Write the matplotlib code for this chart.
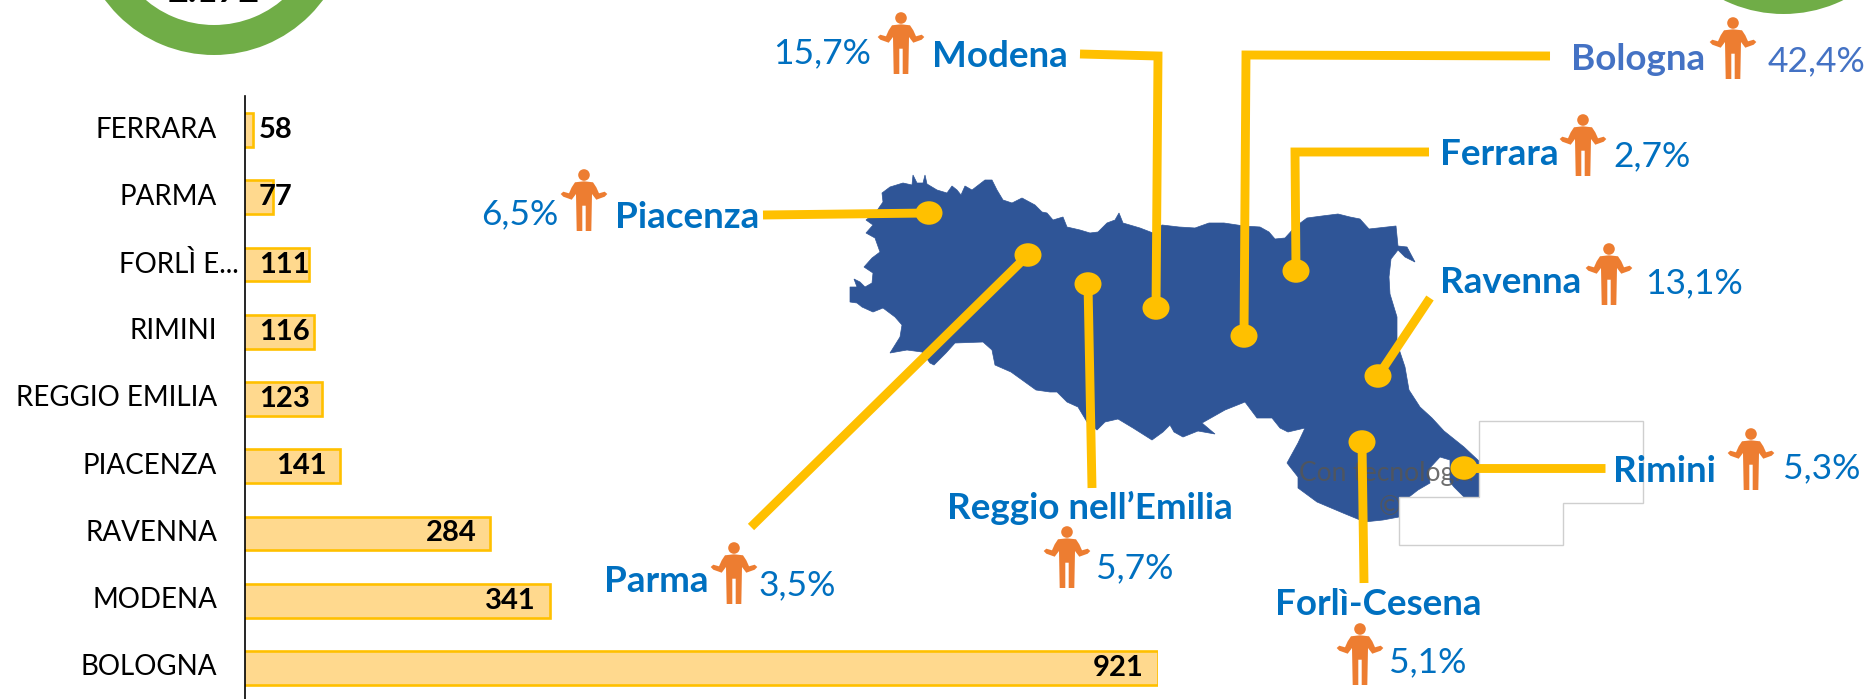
#!/usr/bin/env python3
# Emilia-Romagna: bar chart by province plus map with callouts
import matplotlib
matplotlib.use('Agg')
import matplotlib.pyplot as plt
from matplotlib.patches import Circle, Ellipse, Polygon, Wedge
from matplotlib.transforms import ScaledTranslation

W, H = 1870, 699
plt.rcParams['font.family'] = ['Lato', 'DejaVu Sans']

CATEGORIES = ['FERRARA', 'PARMA', 'FORLÌ E...', 'RIMINI', 'REGGIO EMILIA',
              'PIACENZA', 'RAVENNA', 'MODENA', 'BOLOGNA']
VALUES = [58, 77, 111, 116, 123, 141, 284, 341, 921]
TOTAL_LABEL = '2.172'

PROVINCES = ['Piacenza', 'Parma', 'Reggio nell’Emilia', 'Modena', 'Bologna',
             'Ferrara', 'Ravenna', 'Rimini', 'Forlì-Cesena']
SHARES = ['6,5%', '3,5%', '5,7%', '15,7%', '42,4%', '2,7%', '13,1%', '5,3%', '5,1%']

# layout in reference pixels
NAME_POS = [(615, 228), (604, 592), (947, 519), (932, 67), (1571, 70),
            (1440, 165), (1440, 293), (1613, 482), (1275, 615)]
SHARE_POS = [(481, 224), (759, 595), (1096, 578), (773, 63), (1768, 71),
             (1613, 166), (1645, 293), (1783, 478), (1389, 672)]
ICON_POS = [(584, 169), (734, 542), (1067, 526), (901, 12), (1733, 17),
            (1583, 114), (1609, 243), (1751, 428), (1360, 623)]
LEADERS = [[(763, 215), (929, 213)],
           [(751, 527), (1028, 255)],
           [(1092, 488), (1088, 284)],
           [(1080, 54), (1158, 56), (1156, 308)],
           [(1550, 56), (1246, 55), (1244, 336)],
           [(1429, 152), (1295, 152), (1296, 271)],
           [(1430, 298), (1378, 376)],
           [(1605, 468), (1464, 468)],
           [(1364, 583), (1362, 442)]]
NAME_COLORS = ['#0070C0'] * 4 + ['#4472C4'] + ['#0070C0'] * 4

# region outline, clockwise from the west end
MAP_OUTLINE = [
    (850, 287), (857, 287), (854, 279), (860, 282), (865, 287), (872, 283), (873, 273),
    (864, 267), (872, 258), (880, 252), (875, 238), (866, 233), (873, 225), (866, 220),
    (876, 212), (883, 202), (882, 193), (890, 187), (903, 183), (912, 185), (913, 175),
    (917, 183), (923, 183), (925, 175), (927, 184), (937, 190), (947, 193), (952, 186),
    (957, 190), (961, 195), (965, 186), (972, 190), (985, 180), (992, 180), (997, 190),
    (1003, 200), (1012, 203), (1022, 198), (1035, 205), (1042, 212), (1047, 213),
    (1053, 220), (1063, 217), (1067, 227), (1080, 230), (1090, 233), (1098, 232),
    (1107, 223), (1115, 220), (1119, 213), (1123, 223), (1140, 228), (1153, 233),
    (1162, 225), (1179, 227), (1195, 228), (1209, 223), (1224, 223), (1244, 226),
    (1260, 227), (1269, 232), (1275, 239), (1285, 238), (1295, 227), (1307, 218),
    (1322, 216), (1338, 214), (1350, 217), (1360, 219), (1369, 229), (1387, 227),
    (1396, 226), (1398, 246), (1407, 247), (1415, 262), (1405, 257), (1398, 250),
    (1391, 259), (1389, 277), (1390, 294), (1397, 317), (1397, 343), (1405, 367),
    (1409, 390), (1420, 407), (1432, 418), (1444, 431), (1464, 447), (1480, 462),
    (1480, 497), (1464, 497), (1454, 487), (1450, 482), (1450, 460), (1440, 457),
    (1428, 470), (1430, 483), (1418, 490), (1409, 497), (1399, 498), (1399, 517),
    (1383, 520), (1364, 522), (1360, 520), (1343, 513), (1317, 502), (1298, 488),
    (1298, 477), (1287, 463), (1298, 443), (1305, 428), (1288, 432), (1280, 428),
    (1272, 418), (1257, 418), (1245, 402), (1225, 410), (1202, 423), (1215, 434),
    (1198, 431), (1183, 437), (1174, 432), (1170, 425), (1163, 432), (1152, 440),
    (1133, 428), (1118, 419), (1105, 422), (1097, 430), (1087, 422), (1078, 407),
    (1067, 402), (1057, 392), (1050, 392), (1036, 390), (1011, 372), (995, 365),
    (992, 350), (983, 342), (955, 343), (946, 353), (934, 365), (930, 363), (922, 352),
    (907, 350), (890, 353), (900, 337), (902, 325), (895, 317), (883, 308), (873, 312),
    (862, 307), (857, 303), (850, 302)]
WHITE_BOX = [(1479, 421), (1643, 421), (1643, 503), (1563, 503), (1563, 545),
             (1399, 545), (1399, 497), (1479, 497)]
PERSON_HALF = [(0, 12.3), (9, 13.3), (12.3, 18.3), (15, 24.3), (20.7, 22.7), (23.3, 25),
               (20.7, 27.7), (12.3, 30.7), (8, 25), (7.3, 62), (1.7, 62), (1.7, 36.7),
               (0, 36.7)]

GOLD = '#FFC000'
GREEN = '#70AD47'
ORANGE = '#ED7D31'
MAP_BLUE = '#2F5597'


def person(ax, cx, top):
    right = [(cx + x, top + y) for x, y in PERSON_HALF]
    left = [(cx - x, top + y) for x, y in PERSON_HALF[::-1]]
    ax.add_patch(Polygon(right + left, closed=True, fc=ORANGE, ec='none', zorder=6))
    ax.add_patch(Circle((cx, top + 6), 5.8, fc=ORANGE, ec='none', zorder=6))


fig = plt.figure(figsize=(W / 100, H / 100), dpi=100, facecolor='white')

# full-figure layer in pixel coordinates for map and callouts
ax = fig.add_axes([0, 0, 1, 1])
ax.set_xlim(0, W)
ax.set_ylim(H, 0)
ax.axis('off')

# donuts running off the top edge
ax.add_patch(Wedge((214, -80.5), 135.5, 0, 360, width=30, fc=GREEN, ec='none'))
ax.add_patch(Wedge((1783.5, -121.5), 135.5, 0, 360, width=30, fc=GREEN, ec='none'))
ax.text(214, 2, TOTAL_LABEL, ha='center', va='baseline', fontsize=26,
        fontweight='bold', color='black')

ax.add_patch(Polygon(MAP_OUTLINE, closed=True, fc=MAP_BLUE, ec=MAP_BLUE, lw=0.5, zorder=2))
ax.text(1299, 481, 'Con tecnologia', fontsize=19, color='#555555', alpha=0.85, zorder=3)
ax.text(1379, 515, '©', fontsize=19, color='#555555', alpha=0.85, zorder=3)
ax.add_patch(Polygon(WHITE_BOX, closed=True, fc='white', ec='#CFCFCF', lw=1, zorder=4))

for pts in LEADERS:
    xs, ys = zip(*pts)
    ax.plot(xs, ys, color=GOLD, lw=6.4, solid_capstyle='butt',
            solid_joinstyle='miter', zorder=5)
    ax.add_patch(Ellipse(pts[-1], 27, 23.5, fc=GOLD, ec='none', zorder=5))

for name, share, npos, spos, ipos, c in zip(PROVINCES, SHARES, NAME_POS, SHARE_POS,
                                            ICON_POS, NAME_COLORS):
    ax.text(npos[0], npos[1], name, ha='left', va='baseline', fontsize=26.5,
            fontweight='bold', color=c, zorder=7)
    ax.text(spos[0], spos[1], share, ha='left', va='baseline', fontsize=25.5,
            color=c, zorder=7)
    person(ax, ipos[0], ipos[1])

# bar chart, value axis starts at 50
bar_ax = fig.add_axes([245 / W, (H - 701.6) / H, 913 / W, 605.2 / H])
bar_ax.patch.set_alpha(0)
bar_ax.set_xlim(50, 921)
bar_ax.set_ylim(len(VALUES) - 0.5, -0.5)
bar_ax.barh(range(len(VALUES)), VALUES, left=0, height=0.5, color='#FFD98E',
            edgecolor=GOLD, linewidth=1.9, zorder=2)
for sp in ['top', 'right', 'bottom']:
    bar_ax.spines[sp].set_visible(False)
bar_ax.spines['left'].set_linewidth(1.2)
bar_ax.spines['left'].set_zorder(3)
bar_ax.set_xticks([])
bar_ax.set_yticks(range(len(CATEGORIES)))
bar_ax.set_yticklabels(CATEGORIES, fontsize=20)
bar_ax.tick_params(axis='y', length=0, pad=20)

for i, lab in enumerate(bar_ax.get_yticklabels()):
    dx = 22 if CATEGORIES[i].endswith('...') else 0
    lab.set_transform(lab.get_transform() +
                      ScaledTranslation(dx / 100, 3 / 100, fig.dpi_scale_trans))

for i, v in enumerate(VALUES):
    if v <= 123:
        # short bars: label starts at a fixed spot
        bar_ax.annotate(str(v), (50, i), xytext=(14 * 0.72, 0), textcoords='offset points',
                        ha='left', va='center', fontsize=21, fontweight='bold', zorder=5)
    else:
        bar_ax.annotate(str(v), (v, i), xytext=(-14 * 0.72, 0), textcoords='offset points',
                        ha='right', va='center', fontsize=21, fontweight='bold', zorder=5)

fig.savefig('out.png', dpi=100)
plt.close(fig)
